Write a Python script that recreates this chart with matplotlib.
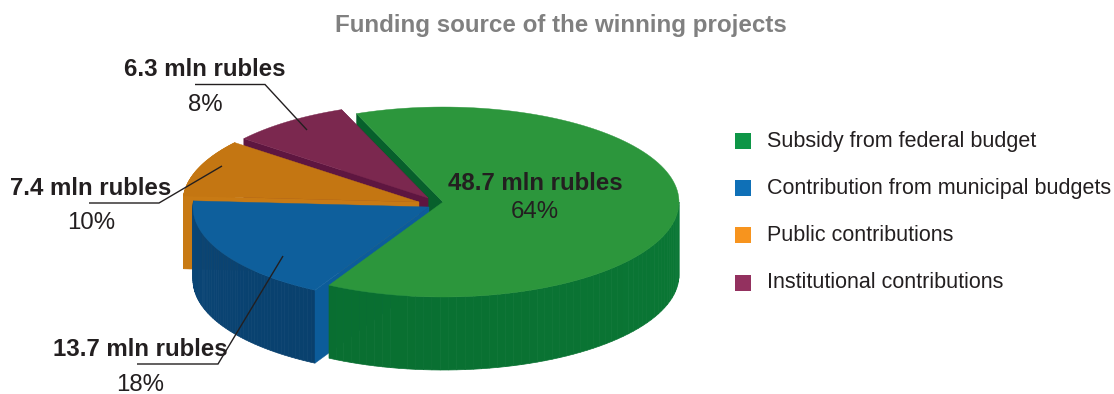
import matplotlib
matplotlib.use("Agg")
import matplotlib.pyplot as plt
from matplotlib.patches import Polygon, Rectangle
from matplotlib.colors import to_rgb
import numpy as np

plt.rcParams['font.family'] = ['Liberation Sans', 'DejaVu Sans']

# chart data
categories = ["Subsidy from federal budget", "Contribution from municipal budgets",
              "Public contributions", "Institutional contributions"]
amounts = [48.7, 13.7, 7.4, 6.3]
percents = [64, 18, 10, 8]

# colours per slice
legend_colors = ["#0e9647", "#0f70b7", "#f7941e", "#93315f"]
top_colors = ["#2c963c", "#0e5f9c", "#c47612", "#7b284f"]
wall_colors = ["#0a7835", "#0a4677", "#c87a14", "#5e1640"]
cut_colors = ["#07602c", "#0c5c9a", "#c87a14", "#5e1640"]

# pie layout in pixels
rx = 236
ry = 95
depth = 73
start_angle = 111.5
apex = [(443, 202), (429, 207), (419, 202), (428, 198)]

# label layout
label_xy = [(535, 183), (140, 350), (91, 188), (205, 69)]
pct_xy = [(535, 212), (140, 385), (91, 223), (205, 105)]
leaders = [None,
           [(137, 364), (218, 364), (283, 256)],
           [(89, 203), (159, 203), (222, 166)],
           [(195, 84.5), (265, 84.5), (307, 130)]]
legend_y = [141, 188, 235, 282.5]

fig = plt.figure(figsize=(11.14, 3.94), dpi=100)
ax = fig.add_axes([0, 0, 1, 1])
ax.set_xlim(0, 1114)
ax.set_ylim(394, 0)
ax.axis('off')

# slices run clockwise from the start angle
spans = 360 * np.array(amounts) / sum(amounts)
ends = start_angle - np.cumsum(spans)
starts = ends + spans


def rim(i, a0, a1, n=120):
    t = np.radians(np.linspace(a0, a1, n))
    return np.column_stack([apex[i][0] + rx * np.cos(t), apex[i][1] - ry * np.sin(t)])


def draw_top(i, z):
    pts = np.vstack([[apex[i]], rim(i, starts[i], ends[i])])
    ax.add_patch(Polygon(pts, closed=True, fc=top_colors[i], ec=top_colors[i], lw=0.3, zorder=z))


def draw_wall(i, a0, a1, z, shade=False):
    # outer wall as strips so it can be shaded along the rim
    pts = rim(i, a0, a1, 60)
    base = np.array(to_rgb(wall_colors[i]))
    for k in range(len(pts) - 1):
        col = base
        if shade:
            col = np.clip(base * (0.92 + 0.08 * k / len(pts)), 0, 1)
        p, q = pts[k], pts[k + 1]
        quad = [p, q, q + (0, depth), p + (0, depth)]
        ax.add_patch(Polygon(quad, closed=True, fc=col, ec=col, lw=0.5, zorder=z))


def draw_cut(i, a, z):
    # flat face between the apex and the rim
    p = np.array(apex[i], dtype=float)
    q = rim(i, a, a, 1)[0]
    quad = [p, q, q + (0, depth), p + (0, depth)]
    ax.add_patch(Polygon(quad, closed=True, fc=cut_colors[i], ec=cut_colors[i], lw=0.3, zorder=z))


# back to front: green cut face, purple, orange, blue, green body
draw_cut(0, starts[0], 1)

draw_cut(3, starts[3], 2)
draw_cut(3, ends[3], 2)
draw_top(3, 3)

# orange wall shows only left of the blue slice
draw_cut(2, starts[2], 4)
draw_wall(2, starts[2], ends[2], 4)
draw_top(2, 5)

draw_wall(1, starts[1], ends[1], 6, shade=True)
draw_cut(1, starts[1], 6)
draw_top(1, 7)

draw_wall(0, ends[0] + 360, 360, 8, shade=True)
draw_top(0, 9)

# leader lines
for pts in leaders:
    if pts is not None:
        xs, ys = zip(*pts)
        ax.plot(xs, ys, color="#231f20", lw=1.0, zorder=10, solid_capstyle='butt', solid_joinstyle='miter')

# value labels
for i in range(len(amounts)):
    ax.text(label_xy[i][0], label_xy[i][1], f"{amounts[i]} mln rubles", ha='center', va='center',
            fontsize=17.3, fontweight='bold', color="#231f20", zorder=11)
    ax.text(pct_xy[i][0], pct_xy[i][1], f"{percents[i]}%", ha='center', va='center',
            fontsize=17.3, color="#231f20", zorder=11)

ax.text(560.5, 25, "Funding source of the winning projects", ha='center', va='center',
        fontsize=17.4, fontweight='bold', color="#808080")

# legend
for name, col, y in zip(categories, legend_colors, legend_y):
    ax.add_patch(Rectangle((735, y - 8), 16, 16, fc=col, ec='none'))
    ax.text(767, y, name, ha='left', va='center', fontsize=15.5, color="#231f20")

fig.savefig("out.png", dpi=100)
